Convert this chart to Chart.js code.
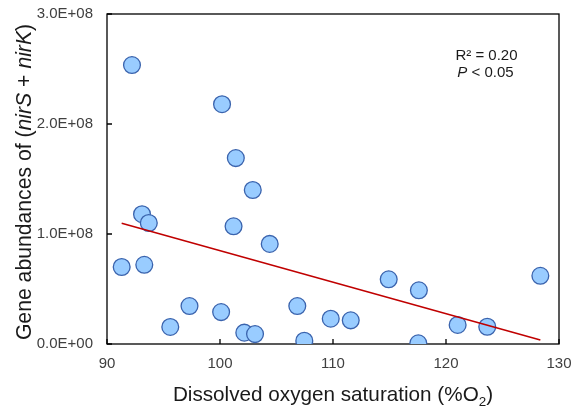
<!DOCTYPE html>
<html><head><meta charset="utf-8">
<script src="https://cdn.jsdelivr.net/npm/chart.js@4/dist/chart.umd.min.js"></script>
<style>html,body{margin:0;padding:0;background:#fff;overflow:hidden}#wrap{width:576px;height:412px;position:relative}</style>
</head><body><div id="wrap"><canvas id="c"></canvas></div>
<script>
// Data
const oxygenSaturation = [92.21,100.18,101.4,102.9,93.1,93.7,101.2,104.4,91.3,93.3,97.3,95.6,100.1,102.15,103.1,106.84,107.46,109.8,111.57,114.93,117.6,117.55,121.03,123.65,128.35];
const geneAbundance = [2.536e8,2.18e8,1.69e8,1.40e8,1.18e8,1.10e8,1.07e8,0.91e8,0.70e8,0.72e8,0.345e8,0.155e8,0.29e8,0.103e8,0.09e8,0.345e8,0.03e8,0.23e8,0.215e8,0.588e8,0.488e8,0.006e8,0.173e8,0.157e8,0.62e8];
const trendX = [91.3, 128.35];
const trendY = [1.097e8, 0.036e8];
const xTicks = [90, 100, 110, 120, 130];
const yTicks = [0, 1e8, 2e8, 3e8];
const statLines = ["R\u00B2 = 0.20", "P < 0.05"];

function sci(v){
  if (v === 0) return "0.0E+00";
  const e = Math.floor(Math.log10(Math.abs(v)));
  const m = v / Math.pow(10, e);
  return m.toFixed(1) + "E" + (e >= 0 ? "+" : "-") + String(Math.abs(e)).padStart(2, "0");
}

const FONT = "'Liberation Sans', Arial, sans-serif";

const framePlugin = {
  id: 'frame',
  beforeDatasetsDraw(chart){
    const ctx = chart.ctx, a = chart.chartArea;
    ctx.save();
    ctx.strokeStyle = '#000';
    ctx.lineWidth = 1.3;
    ctx.strokeRect(a.left, a.top, a.right - a.left, a.bottom - a.top);
    const xs = chart.scales.x, ys = chart.scales.y;
    ctx.beginPath();
    xs.ticks.forEach(t => { const px = xs.getPixelForValue(t.value); ctx.moveTo(px, a.bottom); ctx.lineTo(px, a.bottom - 5); });
    ys.ticks.forEach(t => { const py = ys.getPixelForValue(t.value); ctx.moveTo(a.left, py); ctx.lineTo(a.left + 5, py); });
    ctx.stroke();
    ctx.restore();
  },
  afterDraw(chart){
    const ctx = chart.ctx, a = chart.chartArea;
    ctx.save();
    ctx.fillStyle = '#1a1a1a';
    ctx.textBaseline = 'alphabetic';
    ctx.textAlign = 'left';
    // X title
    const xs = 20.7;
    drawParts(ctx, [
      {t: 'Dissolved oxygen saturation (%O', f: xs + 'px ' + FONT, dy: 0},
      {t: '2', f: (xs*0.65) + 'px ' + FONT, dy: 4.5},
      {t: ')', f: xs + 'px ' + FONT, dy: 0}
    ], (a.left + a.right) / 2, 401);
    // Y title
    const ysz = 21.2;
    ctx.save();
    ctx.translate(31, (a.top + a.bottom) / 2 + 3);
    ctx.rotate(-Math.PI / 2);
    drawParts(ctx, [
      {t: 'Gene abundances of (', f: ysz + 'px ' + FONT, dy: 0},
      {t: 'nirS', f: 'italic ' + ysz + 'px ' + FONT, dy: 0},
      {t: ' + ', f: ysz + 'px ' + FONT, dy: 0},
      {t: 'nirK', f: 'italic ' + ysz + 'px ' + FONT, dy: 0},
      {t: ')', f: ysz + 'px ' + FONT, dy: 0}
    ], 0, 0);
    ctx.restore();
    // Stats annotation
    drawParts(ctx, [{t: statLines[0], f: '15px ' + FONT, dy: 0}], 486.5, 60);
    drawParts(ctx, [
      {t: statLines[1].slice(0, 1), f: 'italic 15px ' + FONT, dy: 0},
      {t: statLines[1].slice(1), f: '15px ' + FONT, dy: 0}
    ], 485.5, 77);
    ctx.restore();
  }
};

function drawParts(ctx, parts, cx, by){
  let w = 0;
  parts.forEach(p => { ctx.font = p.f; p.w = ctx.measureText(p.t).width; w += p.w; });
  let x = cx - w / 2;
  parts.forEach(p => { ctx.font = p.f; ctx.fillText(p.t, x, by + p.dy); x += p.w; });
}

const points = oxygenSaturation.map((x, i) => ({x: x, y: geneAbundance[i]}));
const trend = trendX.map((x, i) => ({x: x, y: trendY[i]}));

new Chart(document.getElementById('c'), {
  type: 'scatter',
  data: {
    datasets: [
      {
        type: 'line',
        data: trend,
        borderColor: '#C00000',
        borderWidth: 1.6,
        pointRadius: 0,
        fill: false,
        order: 0
      },
      {
        data: points,
        backgroundColor: '#99CCFF',
        borderColor: '#3A63AD',
        borderWidth: 1.3,
        pointRadius: 8.4,
        pointHoverRadius: 8.4,
        order: 1
      }
    ]
  },
  options: {
    responsive: true,
    maintainAspectRatio: false,
    animation: false,
    events: [],
    layout: {padding: {top: 14, right: 17, left: 0, bottom: 0}},
    plugins: {legend: {display: false}, tooltip: {enabled: false}, title: {display: false}},
    scales: {
      x: {
        type: 'linear', min: 90, max: 130,
        afterBuildTicks: s => { s.ticks = xTicks.map(v => ({value: v})); },
        afterFit: s => { s.height = 68; s.paddingLeft = 0; s.paddingRight = 0; },
        grid: {display: false, drawTicks: false},
        border: {display: false},
        ticks: {color: '#404040', padding: 11, maxRotation: 0, font: {family: FONT, size: 15}}
      },
      y: {
        type: 'linear', min: 0, max: 3e8,
        afterBuildTicks: s => { s.ticks = yTicks.map(v => ({value: v})); },
        afterFit: s => { s.width = 107; s.paddingTop = 0; s.paddingBottom = 0; },
        grid: {display: false, drawTicks: false},
        border: {display: false},
        ticks: {color: '#404040', padding: 14, font: {family: FONT, size: 15}, callback: v => sci(v)}
      }
    }
  },
  plugins: [framePlugin]
});
</script>
</body></html>
